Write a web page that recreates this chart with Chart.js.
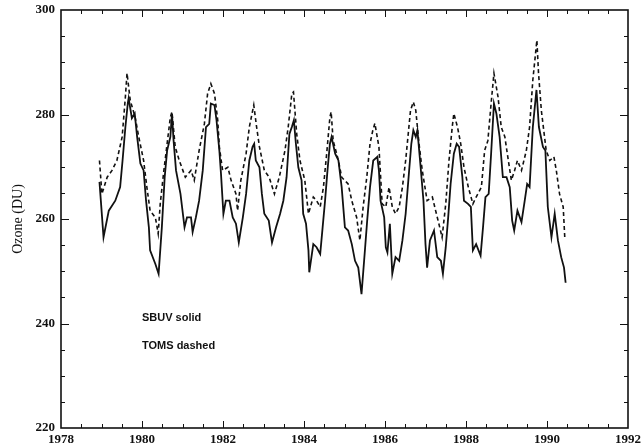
<!DOCTYPE html>
<html>
<head>
<meta charset="utf-8">
<script src="https://cdn.jsdelivr.net/npm/chart.js@4/dist/chart.umd.min.js"></script>
<style>
  html, body { margin: 0; padding: 0; background: #fff; }
  canvas { display: block; }
</style>
</head>
<body>
<canvas id="ozoneChart" width="644" height="448"></canvas>
<script>
// SBUV total ozone (solid)
const sbuvYear = [
  1978.95, 1979.05, 1979.18, 1979.34, 1979.46, 1979.52, 1979.59, 1979.65, 1979.67, 1979.75,
  1979.82, 1979.88, 1979.96, 1980.04, 1980.10, 1980.17, 1980.20, 1980.33, 1980.41, 1980.49,
  1980.56, 1980.62, 1980.70, 1980.74, 1980.78, 1980.84, 1980.95, 1981.05, 1981.11, 1981.21,
  1981.25, 1981.33, 1981.41, 1981.50, 1981.58, 1981.66, 1981.70, 1981.79, 1981.84, 1981.91,
  1981.95, 1982.01, 1982.07, 1982.16, 1982.24, 1982.32, 1982.39, 1982.49, 1982.57, 1982.65,
  1982.73, 1982.77, 1982.81, 1982.90, 1982.96, 1983.02, 1983.13, 1983.21, 1983.31, 1983.41,
  1983.49, 1983.57, 1983.64, 1983.70, 1983.75, 1983.80, 1983.86, 1983.94, 1983.98, 1984.05,
  1984.11, 1984.13, 1984.23, 1984.31, 1984.40, 1984.46, 1984.52, 1984.58, 1984.64, 1984.68,
  1984.77, 1984.85, 1984.93, 1985.01, 1985.09, 1985.18, 1985.26, 1985.34, 1985.42, 1985.51,
  1985.56, 1985.63, 1985.71, 1985.81, 1985.85, 1985.89, 1985.98, 1986.02, 1986.06, 1986.12,
  1986.18, 1986.26, 1986.35, 1986.43, 1986.51, 1986.59, 1986.65, 1986.70, 1986.76, 1986.80,
  1986.88, 1986.95, 1987.00, 1987.04, 1987.11, 1987.21, 1987.29, 1987.38, 1987.43, 1987.50,
  1987.56, 1987.62, 1987.70, 1987.77, 1987.83, 1987.91, 1987.95, 1988.05, 1988.12, 1988.17,
  1988.25, 1988.36, 1988.42, 1988.48, 1988.56, 1988.62, 1988.69, 1988.75, 1988.83, 1988.91,
  1989.00, 1989.08, 1989.14, 1989.19, 1989.27, 1989.37, 1989.45, 1989.51, 1989.57, 1989.65,
  1989.74, 1989.80, 1989.90, 1989.96, 1990.02, 1990.11, 1990.19, 1990.27, 1990.35, 1990.42,
  1990.46
];
const sbuvOzone = [
  267.1, 256.5, 261.6, 263.5, 266.1, 271.2, 277.6, 282.2, 283.1, 279.3,
  280.2, 275.7, 270.6, 269.3, 263.5, 258.4, 254.0, 251.4, 249.5, 258.4,
  268.0, 273.1, 275.7, 280.2, 275.0, 269.3, 264.8, 258.4, 260.3, 260.3,
  257.5, 260.3, 263.5, 269.3, 277.6, 278.2, 282.1, 281.8, 278.9, 273.1,
  268.7, 261.0, 263.5, 263.5, 260.3, 259.1, 255.5, 260.3, 264.8, 271.2,
  273.8, 274.4, 271.2, 269.9, 264.8, 261.0, 259.7, 255.5, 258.4, 261.0,
  263.5, 268.0, 276.3, 277.6, 278.9, 274.4, 269.9, 267.4, 261.0, 259.1,
  254.0, 249.8, 255.2, 254.6, 253.3, 258.4, 263.5, 269.3, 274.4, 275.7,
  272.5, 271.2, 266.1, 258.4, 257.8, 255.2, 252.0, 250.7, 245.6, 254.6,
  259.7, 266.1, 271.2, 271.9, 269.3, 263.5, 260.3, 254.6, 253.6, 259.1,
  249.5, 252.7, 252.0, 255.9, 261.0, 268.7, 274.4, 277.0, 275.7, 277.0,
  269.9, 263.5, 255.2, 250.7, 255.9, 257.8, 252.7, 252.0, 249.5, 254.6,
  260.3, 266.7, 272.5, 274.4, 273.8, 268.0, 263.5, 262.9, 262.3, 254.0,
  255.2, 253.0, 258.4, 264.2, 264.8, 272.5, 282.1, 280.2, 275.7, 268.0,
  268.0, 266.1, 259.7, 257.8, 261.6, 259.4, 263.5, 266.7, 266.1, 277.6,
  284.7, 277.6, 273.8, 273.1, 262.3, 256.5, 261.0, 255.9, 252.7, 250.7,
  247.8
];

// TOMS total ozone (dashed)
const tomsYear = [
  1978.95, 1979.01, 1979.14, 1979.26, 1979.38, 1979.51, 1979.59, 1979.63, 1979.71, 1979.83,
  1979.92, 1980.04, 1980.12, 1980.20, 1980.33, 1980.40, 1980.45, 1980.54, 1980.62, 1980.70,
  1980.74, 1980.82, 1980.92, 1981.07, 1981.21, 1981.29, 1981.41, 1981.54, 1981.62, 1981.70,
  1981.79, 1981.87, 1981.91, 1981.99, 1982.12, 1982.20, 1982.32, 1982.36, 1982.44, 1982.57,
  1982.65, 1982.76, 1982.83, 1982.90, 1983.02, 1983.14, 1983.27, 1983.39, 1983.53, 1983.61,
  1983.70, 1983.74, 1983.82, 1983.90, 1984.02, 1984.11, 1984.23, 1984.31, 1984.40, 1984.48,
  1984.56, 1984.64, 1984.67, 1984.72, 1984.85, 1984.93, 1985.09, 1985.18, 1985.30, 1985.38,
  1985.46, 1985.55, 1985.63, 1985.70, 1985.75, 1985.85, 1985.93, 1986.02, 1986.10, 1986.18,
  1986.26, 1986.35, 1986.43, 1986.51, 1986.59, 1986.63, 1986.70, 1986.76, 1986.84, 1986.92,
  1987.04, 1987.17, 1987.25, 1987.33, 1987.41, 1987.50, 1987.58, 1987.66, 1987.70, 1987.79,
  1987.87, 1987.95, 1988.06, 1988.17, 1988.25, 1988.38, 1988.46, 1988.54, 1988.62, 1988.69,
  1988.79, 1988.87, 1988.96, 1989.02, 1989.12, 1989.20, 1989.27, 1989.37, 1989.49, 1989.57,
  1989.65, 1989.75, 1989.79, 1989.86, 1989.98, 1990.07, 1990.17, 1990.23, 1990.31, 1990.40,
  1990.44
];
const tomsOzone = [
  271.2, 264.8, 268.0, 269.3, 271.2, 275.7, 283.4, 287.9, 282.7, 279.5,
  275.7, 271.2, 266.1, 261.6, 260.3, 257.2, 262.9, 269.3, 274.4, 279.5,
  280.5, 273.8, 271.2, 268.0, 269.3, 267.4, 273.1, 278.2, 284.0, 285.9,
  284.0, 278.9, 273.8, 269.3, 269.9, 267.4, 264.8, 261.6, 267.4, 272.5,
  277.6, 281.8, 277.6, 273.8, 269.3, 268.0, 264.8, 268.0, 273.1, 277.6,
  284.0, 284.3, 276.3, 271.2, 267.4, 261.0, 264.2, 263.5, 262.3, 266.1,
  272.5, 279.5, 280.5, 275.0, 271.2, 268.0, 266.7, 263.5, 260.3, 255.9,
  262.3, 268.0, 274.4, 277.0, 278.3, 273.8, 262.9, 262.3, 266.1, 262.3,
  261.0, 262.3, 266.1, 271.2, 277.6, 280.8, 282.4, 280.8, 274.4, 269.3,
  263.5, 264.2, 261.6, 259.1, 256.5, 262.9, 271.2, 277.6, 280.2, 277.6,
  274.4, 269.9, 266.0, 262.9, 264.2, 266.1, 273.1, 275.0, 282.1, 287.9,
  283.4, 277.6, 275.7, 272.5, 267.4, 269.3, 271.2, 269.3, 273.1, 277.6,
  286.6, 294.2, 288.0, 280.8, 273.1, 271.2, 271.9, 269.3, 264.8, 262.3,
  256.3
];

const yearTicks = [1978, 1980, 1982, 1984, 1986, 1988, 1990, 1992];
const ozoneTicks = [220, 240, 260, 280, 300];

const toPoints = (xs, ys) => xs.map((x, i) => ({ x, y: ys[i] }));

const tickFont = { family: 'Liberation Serif', size: 13, weight: 'bold' };

// box round the plot with inward ticks on all four sides
const frameTicks = {
  id: 'frameTicks',
  afterDatasetsDraw(chart) {
    const { ctx, chartArea: a, scales: { x, y } } = chart;
    ctx.save();
    ctx.strokeStyle = '#111';
    ctx.lineWidth = 1;
    ctx.beginPath();
    for (let yr = 1978.5; yr < 1992; yr += 0.5) {
      const px = Math.round(x.getPixelForValue(yr)) + 0.5;
      const len = yr % 2 === 0 ? 7 : 4;
      ctx.moveTo(px, a.bottom); ctx.lineTo(px, a.bottom - len);
      ctx.moveTo(px, a.top); ctx.lineTo(px, a.top + len);
    }
    for (let v = 225; v < 300; v += 5) {
      const py = Math.round(y.getPixelForValue(v)) + 0.5;
      const len = v % 20 === 0 ? 8 : 4;
      ctx.moveTo(a.left, py); ctx.lineTo(a.left + len, py);
      ctx.moveTo(a.right, py); ctx.lineTo(a.right - len, py);
    }
    ctx.stroke();
    ctx.lineWidth = 1.6;
    ctx.strokeRect(a.left, a.top, a.right - a.left, a.bottom - a.top);

    // series key written inside the plot
    ctx.fillStyle = '#111';
    ctx.font = 'bold 11px "Liberation Sans"';
    ctx.textBaseline = 'middle';
    ctx.fillText('SBUV solid', x.getPixelForValue(1980), y.getPixelForValue(241));
    ctx.fillText('TOMS dashed', x.getPixelForValue(1980), y.getPixelForValue(235.7));
    ctx.restore();
  }
};

new Chart(document.getElementById('ozoneChart'), {
  type: 'line',
  data: {
    datasets: [
      {
        label: 'SBUV',
        data: toPoints(sbuvYear, sbuvOzone),
        borderColor: '#111',
        borderWidth: 1.8,
        pointRadius: 0,
        tension: 0,
      },
      {
        label: 'TOMS',
        data: toPoints(tomsYear, tomsOzone),
        borderColor: '#111',
        borderWidth: 1.6,
        borderDash: [4, 3],
        pointRadius: 0,
        tension: 0,
      },
    ],
  },
  options: {
    responsive: false,
    animation: false,
    devicePixelRatio: 1,
    layout: { padding: { top: 10, right: 16, bottom: 0, left: 0 } },
    plugins: { legend: { display: false }, tooltip: { enabled: false } },
    scales: {
      x: {
        type: 'linear',
        min: 1978,
        max: 1992,
        afterBuildTicks: (scale) => { scale.ticks = yearTicks.map((value) => ({ value })); },
        afterFit: (scale) => { scale.height = 20; scale.paddingLeft = 0; scale.paddingRight = 0; },
        grid: { display: false, drawTicks: false },
        border: { display: false },
        ticks: {
          color: '#111',
          font: tickFont,
          padding: 4,
          maxRotation: 0,
          autoSkip: false,
          callback: (v) => String(v),
        },
      },
      y: {
        min: 220,
        max: 300,
        afterBuildTicks: (scale) => { scale.ticks = ozoneTicks.map((value) => ({ value })); },
        afterFit: (scale) => { scale.width = 61; scale.paddingTop = 0; scale.paddingBottom = 0; },
        grid: { display: false, drawTicks: false },
        border: { display: false },
        ticks: { color: '#111', font: tickFont, padding: 6 },
        title: {
          display: true,
          text: 'Ozone (DU)',
          color: '#111',
          font: { family: 'Liberation Serif', size: 14 },
          padding: { top: 10 },
        },
      },
    },
  },
  plugins: [frameTicks],
});
</script>
</body>
</html>
